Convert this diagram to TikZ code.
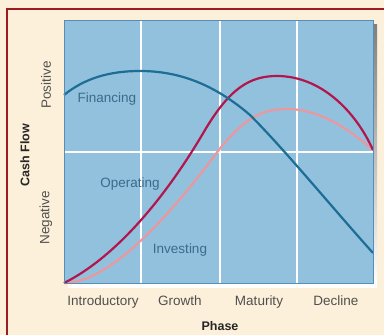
\documentclass[tikz,border=0pt]{standalone}
\usepackage{fontspec}
\setmainfont{Liberation Sans}
\definecolor{cream}{HTML}{FDF0DA}
\definecolor{frame}{HTML}{9E1B1F}
\definecolor{plotbg}{HTML}{92C1DE}
\definecolor{plotedge}{HTML}{5A8DB3}
\definecolor{shade}{HTML}{8C9499}
\definecolor{fincol}{HTML}{1C6E95}
\definecolor{opcol}{HTML}{B3164C}
\definecolor{invcol}{HTML}{EA979E}
\definecolor{lblcol}{HTML}{3C6A8A}
\definecolor{axcol}{HTML}{505050}
\tikzset{
  curve/.style={line width=2.2pt},
  lbl/.style={text=lblcol, font=\fontsize{13.5}{15}\selectfont, inner sep=0pt, anchor=base},
  axlbl/.style={text=axcol, font=\fontsize{13.5}{15}\selectfont, inner sep=0pt, anchor=base},
  sidelbl/.style={text=axcol, font=\fontsize{13.5}{15}\selectfont, inner sep=0pt, rotate=90},
  axtitle/.style={text=black!85, font=\fontsize{12.5}{14}\selectfont\bfseries, inner sep=0pt}
}
\begin{document}
\begin{tikzpicture}[x=1pt, y=-1pt]
  \useasboundingbox (0,0) rectangle (384,335);
  % background and frame
  \fill[cream] (0,0) rectangle (384,335);
  \draw[frame, line width=2pt] (7,335) -- (7,9) -- (384,9);
  % plot area
  \fill[shade] (68,24) rectangle (377,287);
  \fill[plotbg] (64,20) rectangle (373,283);
  \draw[white, line width=1.8pt] (141,20) -- (141,283);
  \draw[white, line width=1.8pt] (220,20) -- (220,283);
  \draw[white, line width=1.8pt] (297,20) -- (297,283);
  \draw[white, line width=1.8pt] (64,152) -- (373,152);
  % curves
  \draw[invcol, curve] (64,283) .. controls (110,283) and (170,215) .. (215,155)
    .. controls (245,115) and (265,109) .. (287,109)
    .. controls (320,109) and (350,130) .. (373,150);
  \draw[opcol, curve] (64,283) .. controls (120,255) and (170,190) .. (205,130)
    .. controls (230,88) and (250,76) .. (277,76)
    .. controls (320,76) and (355,110) .. (373,150);
  \draw[fincol, curve] (64,95) .. controls (85,78) and (110,71) .. (140,71)
    .. controls (180,71) and (215,85) .. (250,115)
    .. controls (285,150) and (330,205) .. (373,253);
  \draw[plotedge, line width=0.8pt] (64,20) rectangle (373,283);
  % curve labels
  \node[lbl] (fin) at (107,102) {Financing};
  \node[lbl] (op) at (130,187) {Operating};
  \node[lbl] (inv) at (180,253) {Investing};
  % axes
  \node[axlbl] (intro) at (103,305) {Introductory};
  \node[axlbl] (growth) at (180,305) {Growth};
  \node[axlbl] (mat) at (259,305) {Maturity};
  \node[axlbl] (dec) at (336,305) {Decline};
  \node[axtitle, anchor=base] (phase) at (220,330) {Phase};
  \node[sidelbl] (pos) at (46,85) {Positive};
  \node[sidelbl] (neg) at (46,218) {Negative};
  \node[axtitle, rotate=90] (cash) at (25,155) {Cash Flow};
\end{tikzpicture}
\end{document}
